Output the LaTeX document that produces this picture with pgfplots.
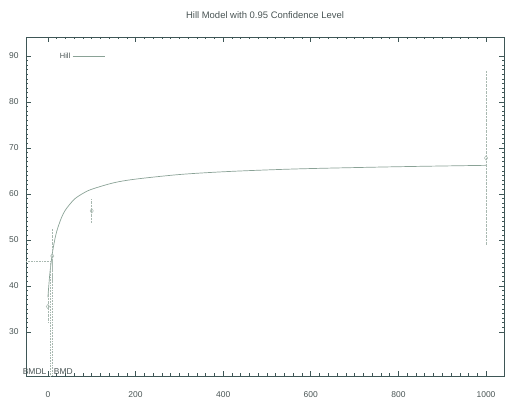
\documentclass[border=0pt]{standalone}
\usepackage{fontspec}
\setmainfont{Liberation Sans}
\usepackage{pgfplots}
\pgfplotsset{compat=1.18}
\definecolor{frame}{HTML}{3E5656}
\definecolor{curve}{HTML}{8AA296}
\definecolor{bar}{HTML}{A8B8B0}
\definecolor{txt}{HTML}{4A5555}
\begin{document}
\begin{tikzpicture}[x=1bp,y=1bp]
\path[use as bounding box] (-26bp,-30bp) rectangle (479bp,376bp);
\begin{axis}[
  at={(0,0)}, anchor=south west,
  scale only axis, width=478bp, height=339bp,
  xmin=-50, xmax=1041, ymin=20.4, ymax=94.1,
  xtick={0,200,400,600,800,1000},
  ytick={30,40,50,60,70,80,90},
  minor x tick num=9, minor y tick num=9,
  tick align=inside,
  major tick length=5bp, minor tick length=2.5bp,
  every tick/.style={frame, line width=0.6pt},
  minor tick style={frame, line width=0.5pt},
  axis line style={frame, line width=0.8pt},
  ticklabel style={font=\fontsize{8.5}{9}\selectfont, text=txt},
  /pgf/number format/assume math mode=true,
  /pgf/number format/set thousands separator={},
  xticklabel style={yshift=-12bp},
  yticklabel style={xshift=-4bp},
  title={Hill Model with 0.95 Confidence Level},
  title style={font=\fontsize{9.5}{10}\selectfont, text=txt, yshift=9bp},
  legend style={draw=none, fill=none, at={(0.06,0.965)}, anchor=north west,
    font=\fontsize{7.5}{8}\selectfont, text=txt, legend plot pos=right},
  legend image code/.code={\draw[#1] (0cm,0cm) -- (1.15cm,0cm);},
  clip=false,
]
% fitted Hill curve
\addplot[curve, line width=0.7pt, smooth] coordinates {
(0,37.5) (2,40.0) (5,43.2) (10,47.0) (15,49.7) (20,51.8) (30,54.6) (40,56.5)
(60,58.8) (80,60.1) (100,61.0) (150,62.4) (200,63.2) (300,64.2) (400,64.8)
(500,65.2) (600,65.5) (800,65.9) (1000,66.2)};
\addlegendentry{Hill}
% data points with error bars
\addplot[only marks, forget plot,
  mark=diamond, mark size=2.2pt, mark options={solid, bar, line width=0.5pt},
  error bars/.cd, y dir=both, y explicit,
  error bar style={bar, densely dotted, line width=0.6pt}, error mark=none]
  coordinates {
  (0,35.5) +- (0,3.5)
  (10,46.5) +- (0,6)
  (100,56.3) +- (0,2.5)
  (1000,67.8) +- (0,19)
};
% BMD / BMDL lines
\addplot[bar, densely dotted, line width=0.6pt, forget plot] coordinates {(-50,45.4) (11,45.4) (11,20.4)};
\addplot[bar, densely dotted, line width=0.6pt, forget plot] coordinates {(6,45.4) (6,20.4)};
\node[anchor=south east, font=\fontsize{8.5}{9}\selectfont, text=txt, inner sep=1bp, xshift=-3bp] at (axis cs:6,20.4) {BMDL};
\node[anchor=south west, font=\fontsize{8.5}{9}\selectfont, text=txt, inner sep=1bp] at (axis cs:11,20.4) {BMD};
\end{axis}
\end{tikzpicture}
\end{document}
